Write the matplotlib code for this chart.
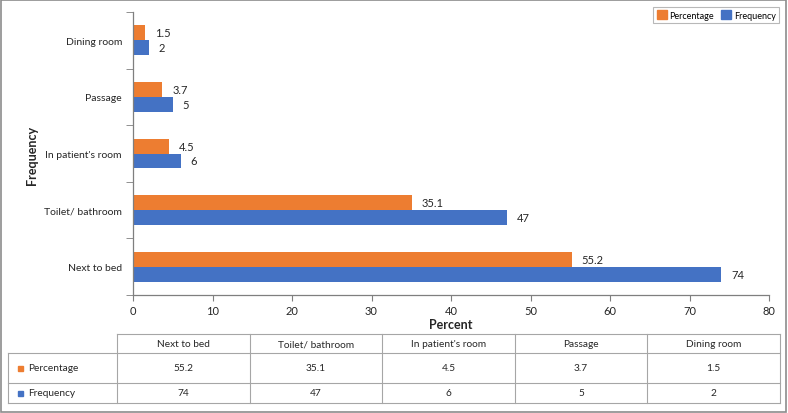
import matplotlib
matplotlib.use("Agg")
import matplotlib.pyplot as plt
import numpy as np
from matplotlib.patches import Rectangle
from matplotlib.lines import Line2D

plt.rcParams['font.family'] = ['Lato', 'DejaVu Sans']

categories = ["Next to bed", "Toilet/ bathroom", "In patient's room", "Passage", "Dining room"]
percentage = [55.2, 35.1, 4.5, 3.7, 1.5]
frequency = [74, 47, 6, 5, 2]
pct_labels = ["55.2", "35.1", "4.5", "3.7", "1.5"]
freq_labels = ["74", "47", "6", "5", "2"]
series_names = ["Percentage", "Frequency"]
xticks = [0, 10, 20, 30, 40, 50, 60, 70, 80]

C_ORANGE = "#ED7D31"
C_BLUE = "#4472C4"
TXT = "#262626"

W, H = 788, 414
fig = plt.figure(figsize=(W / 100, H / 100), dpi=100)

def fx(px):
    return px / W

def fy(py):
    return 1 - py / H

ax = fig.add_axes([fx(133), fy(296), fx(769) - fx(133), fy(13) - fy(296)])
y = np.arange(len(categories))
bh = 0.265
ax.barh(y + bh / 2, percentage, height=bh, color=C_ORANGE, label=series_names[0])
ax.barh(y - bh / 2, frequency, height=bh, color=C_BLUE, label=series_names[1])
for i in range(len(categories)):
    ax.annotate(pct_labels[i], (percentage[i], y[i] + bh / 2), xytext=(7, 0), textcoords="offset points",
                va="center", ha="left", fontsize=8, color=TXT)
    ax.annotate(freq_labels[i], (frequency[i], y[i] - bh / 2), xytext=(7, 0), textcoords="offset points",
                va="center", ha="left", fontsize=8, color=TXT)

ax.set_xlim(0, 80)
ax.set_ylim(-0.5, len(categories) - 0.5)
ax.set_xticks(xticks)
ax.set_xticklabels([str(t) for t in xticks], fontsize=8, color=TXT)
ax.set_yticks(y)
ax.set_yticklabels(categories, fontsize=7.5, color=TXT)
ax.tick_params(axis='y', length=0, pad=8)
ax.set_yticks(np.arange(-0.5, len(categories), 1.0), minor=True)
ax.tick_params(axis='y', which='minor', length=5, color="#7f7f7f", direction='out')
ax.tick_params(axis='x', length=4, color="#7f7f7f", pad=3)
for s in ["top", "right"]:
    ax.spines[s].set_visible(False)
for s in ["left", "bottom"]:
    ax.spines[s].set_color("#7f7f7f")
    ax.spines[s].set_linewidth(0.9)
ax.set_xlabel("Percent", fontsize=9, fontweight="bold", color=TXT, labelpad=2)
fig.text(fx(32), fy(155), "Frequency", rotation=90, fontsize=9, fontweight="bold",
         color=TXT, ha="center", va="center")

# legend
handles = [Rectangle((0, 0), 1, 1, color=C_ORANGE), Rectangle((0, 0), 1, 1, color=C_BLUE)]
leg = fig.legend(handles, series_names, loc="upper right", bbox_to_anchor=(fx(784), fy(3)),
                 ncol=2, fontsize=6.5, frameon=True, fancybox=False, handlelength=1.1, handleheight=1.1,
                 handletextpad=0.3, columnspacing=0.8, borderpad=0.4)
leg.get_frame().set_edgecolor("#a6a6a6")
leg.get_frame().set_linewidth(0.8)

# table
lc = "#a6a6a6"
lw = 0.8
x_left, x_lab, x_right = 8, 117, 780
col_w = (x_right - x_lab) / len(categories)
y_top, y_h, y_r1, y_bot = 335, 354, 384, 404

def hline(x0, x1, yy):
    fig.add_artist(Line2D([fx(x0), fx(x1)], [fy(yy), fy(yy)], color=lc, lw=lw))

def vline(xx, y0, y1):
    fig.add_artist(Line2D([fx(xx), fx(xx)], [fy(y0), fy(y1)], color=lc, lw=lw))

hline(x_lab, x_right, y_top)
for yy in (y_h, y_r1, y_bot):
    hline(x_left, x_right, yy)
vline(x_left, y_h, y_bot)
for k in range(len(categories) + 1):
    vline(x_lab + k * col_w, y_top, y_bot)

rows = [(series_names[0], C_ORANGE, pct_labels), (series_names[1], C_BLUE, freq_labels)]
for k, cat in enumerate(categories):
    cx = x_lab + (k + 0.5) * col_w
    fig.text(fx(cx), fy((y_top + y_h) / 2), cat, fontsize=7.3, color=TXT, ha="center", va="center")
for r, (name, col, labs) in enumerate(rows):
    y0, y1 = [(y_h, y_r1), (y_r1, y_bot)][r]
    cy = (y0 + y1) / 2
    fig.add_artist(Rectangle((fx(18), fy(cy + 2.5)), fx(5), fy(0) - fy(5), color=col,
                             transform=fig.transFigure))
    fig.text(fx(28), fy(cy), name, fontsize=7.3, color=TXT, ha="left", va="center")
    for k in range(len(categories)):
        cx = x_lab + (k + 0.5) * col_w
        fig.text(fx(cx), fy(cy), labs[k], fontsize=7.3, color=TXT, ha="center", va="center")

# outer border
fig.add_artist(Rectangle((0.001, 0.002), 0.997, 0.996, fill=False, edgecolor="#8c8c8c", lw=1.2,
                         transform=fig.transFigure))

fig.savefig("out.png", dpi=100)
